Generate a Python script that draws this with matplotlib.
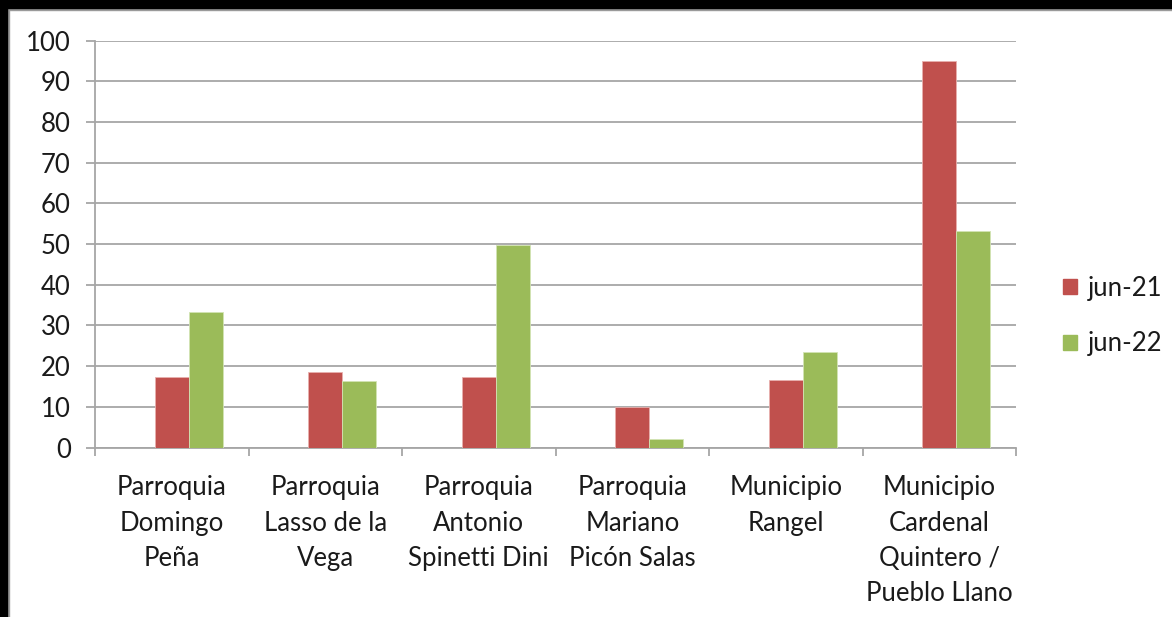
import matplotlib
matplotlib.use('Agg')
from matplotlib import pyplot as plt
from matplotlib.patches import Rectangle, Patch
import numpy as np

categories = ['Parroquia\nDomingo\nPeña', 'Parroquia\nLasso de la\nVega',
              'Parroquia\nAntonio\nSpinetti Dini', 'Parroquia\nMariano\nPicón Salas',
              'Municipio\nRangel', 'Municipio\nCardenal\nQuintero /\nPueblo Llano']
jun21 = [17.3, 18.6, 17.3, 9.9, 16.5, 95.1]
jun22 = [33.4, 16.3, 49.9, 2.1, 23.5, 53.1]
series_names = ['jun-21', 'jun-22']
yticks = list(range(0, 101, 10))

red = '#C0504D'
green = '#9BBB59'
grid_c = '#A6A6A6'
txt_c = '#1A1A1A'
fs = 18.5

plt.rcParams['font.family'] = ['Lato', 'DejaVu Sans']

fig = plt.figure(figsize=(11.72, 6.17), dpi=100)
ax = fig.add_axes([95/1172, 1-447.5/617, (1016-95)/1172, (447.5-40.7)/617])

x = np.arange(len(categories))
w = 0.221
ax.bar(x, jun21, width=w, color=red, edgecolor='#E8B0AE', linewidth=0.6, zorder=3)
ax.bar(x + w, jun22, width=w, color=green, edgecolor='#D2E4B4', linewidth=0.6, zorder=3)

ax.set_xlim(-0.5, len(categories) - 0.5)
ax.set_ylim(0, 100)
ax.set_yticks(yticks)
ax.yaxis.grid(True, color=grid_c, linewidth=1.3, zorder=0)
ax.set_axisbelow(True)

ax.set_xticks(x)
ax.set_xticklabels(categories, fontsize=fs, color=txt_c, linespacing=1.52)
ax.set_xticks(np.arange(-0.5, len(categories)), minor=True)
ax.tick_params(axis='x', which='major', length=0, pad=20)
ax.tick_params(axis='x', which='minor', length=6, width=1.3, color=grid_c)
ax.tick_params(axis='y', length=6.5, width=1.3, color=grid_c, pad=11,
               labelsize=fs, labelcolor=txt_c)

for s in ['top', 'right']:
    ax.spines[s].set_visible(False)
for s in ['left', 'bottom']:
    ax.spines[s].set_color(grid_c)
    ax.spines[s].set_linewidth(1.3)

handles = [Patch(color=red), Patch(color=green)]
fig.legend(handles, series_names, loc='center left', bbox_to_anchor=(1040/1172, 1-316/617),
           frameon=False, fontsize=fs, handlelength=0.55, handleheight=0.55,
           handletextpad=0.4, labelspacing=1.2, labelcolor=txt_c)

# dark frame on the top and left edge of the screenshot
fig.patches.append(Rectangle((0, 1-8/617), 1, 8/617, transform=fig.transFigure,
                             color='black', zorder=10))
fig.patches.append(Rectangle((0, 0), 7/1172, 1, transform=fig.transFigure,
                             color='black', zorder=10))
fig.patches.append(Rectangle((7/1172, 1-10/617), 1, 2/617, transform=fig.transFigure,
                             color='#9A9A9A', zorder=9))
fig.patches.append(Rectangle((7/1172, 0), 2/1172, 1-8/617, transform=fig.transFigure,
                             color='#9A9A9A', zorder=9))

fig.savefig('out.png', dpi=100)
